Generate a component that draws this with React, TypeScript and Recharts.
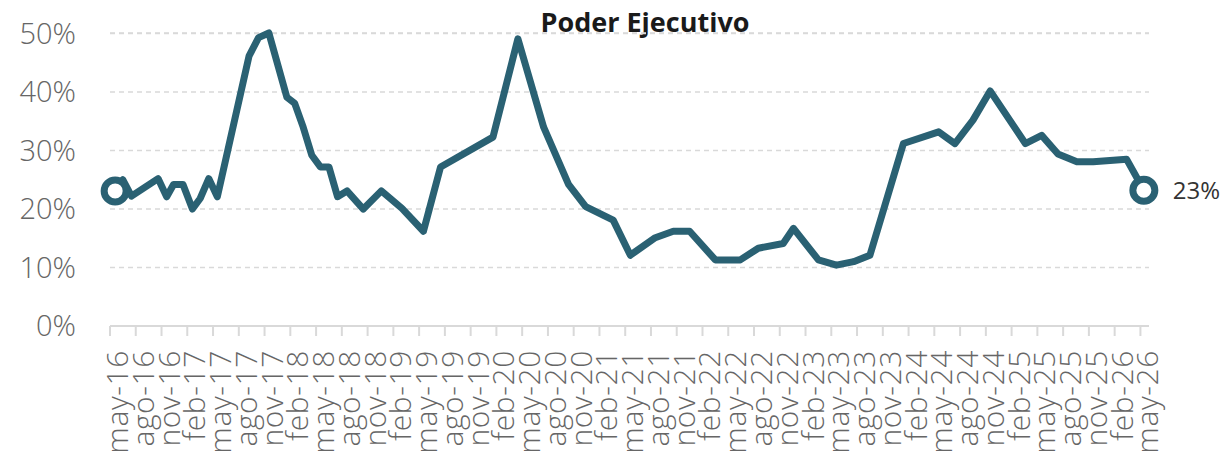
import React from "react";
import { LineChart, Line, XAxis, YAxis, CartesianGrid } from "recharts";

// months since may-16 (fractional = mid-month readings)
const months = [
  0.6, 1.5, 2.5, 5.6, 6.6, 7.4, 8.5, 9.6, 10.5, 11.5, 12.5, 16.2, 17.3, 18.5,
  20.6, 21.5, 22.5, 23.5, 24.5, 25.5, 26.5, 27.6, 29.5, 31.6, 34.0, 36.5, 38.5,
  44.6, 47.5, 50.5, 53.4, 55.4, 58.6, 60.6, 63.5, 65.6, 67.5, 70.5, 73.4, 75.5,
  78.4, 79.6, 82.5, 84.6, 86.6, 88.5, 92.4, 96.5, 98.4, 100.5, 102.5, 106.6,
  108.5, 110.4, 112.6, 114.5, 118.4, 120.4,
];

const values = [
  23.1, 25.0, 22.2, 25.2, 22.1, 24.2, 24.2, 20.0, 21.8, 25.2, 22.1, 46.2, 49.3,
  50.1, 39.1, 38.1, 34.0, 29.2, 27.2, 27.2, 22.1, 23.1, 20.0, 23.1, 20.1, 16.2,
  27.2, 32.3, 49.1, 34.0, 24.2, 20.4, 18.1, 12.1, 15.1, 16.2, 16.2, 11.3, 11.3,
  13.3, 14.1, 16.7, 11.3, 10.4, 11.0, 12.1, 31.2, 33.2, 31.2, 35.2, 40.2, 31.2,
  32.6, 29.4, 28.1, 28.1, 28.5, 23.2,
];

const tickLabels = [
  "may-16", "ago-16", "nov-16", "feb-17", "may-17", "ago-17", "nov-17",
  "feb-18", "may-18", "ago-18", "nov-18", "feb-19", "may-19", "ago-19",
  "nov-19", "feb-20", "may-20", "ago-20", "nov-20", "feb-21", "may-21",
  "ago-21", "nov-21", "feb-22", "may-22", "ago-22", "nov-22", "feb-23",
  "may-23", "ago-23", "nov-23", "feb-24", "may-24", "ago-24", "nov-24",
  "feb-25", "may-25", "ago-25", "nov-25", "feb-26", "may-26",
];

const yTicks = [0, 10, 20, 30, 40, 50];

const data = months.map((m, i) => ({ m, v: values[i] }));
const xTicks = tickLabels.map((_, i) => i * 3);

const LINE = "#2a6173";
const AXIS = "#d9d9d9";

function XTick(props: any) {
  const { x, y, payload } = props;
  const label = tickLabels[Math.round(payload.value / 3)];
  return (
    <text
      transform={`translate(${x + 18},${y + 12}) rotate(-90)`}
      textAnchor="end"
      fontFamily="'Open Sans', sans-serif"
      fontWeight={300}
      fontSize={30}
      letterSpacing={0.6}
      fill="#666"
    >
      {label}
    </text>
  );
}

function EndDot(props: any) {
  const { cx, cy, index } = props;
  const last = index === data.length - 1;
  if (index !== 0 && !last) return <g key={index} />;
  return (
    <g key={index}>
      <circle cx={cx} cy={cy} r={11} fill="#fff" stroke={LINE} strokeWidth={7} />
      {last && (
        <text
          x={cx + 29}
          y={cy}
          dy="0.36em"
          fontFamily="'Open Sans', sans-serif"
          fontSize={24}
          fill="#333"
        >
          {Math.round(values[index])}%
        </text>
      )}
    </g>
  );
}

export default function App() {
  return (
    <div style={{ position: "absolute", left: 0, top: 0, width: 1228, height: 456 }}>
      <div
        style={{
          position: "absolute",
          left: 0,
          width: 1290,
          top: 4,
          textAlign: "center",
          fontFamily: "'Open Sans', sans-serif",
          fontWeight: 700,
          fontSize: 27,
          color: "#1a1a1a",
          lineHeight: "36px",
        }}
      >
        Poder Ejecutivo
      </div>
      <LineChart
        width={1228}
        height={456}
        data={data}
        margin={{ top: 33, right: 79, left: 10, bottom: 0 }}
      >
        <CartesianGrid vertical={false} stroke={AXIS} strokeDasharray="5 4" strokeWidth={1.5} />
        <XAxis
          dataKey="m"
          type="number"
          domain={[0, 121]}
          ticks={xTicks}
          interval={0}
          height={130}
          tickSize={10}
          tickMargin={2}
          stroke={AXIS}
          strokeWidth={2}
          tick={<XTick />}
        />
        <YAxis
          type="number"
          domain={[0, 50]}
          ticks={yTicks}
          width={100}
          axisLine={false}
          tickLine={false}
          tickMargin={28}
          tickFormatter={(v: number) => `${v}%`}
          tick={{ fontFamily: "'Open Sans', sans-serif", fontWeight: 300, fontSize: 29, fill: "#666" }}
        />
        <Line
          type="linear"
          dataKey="v"
          stroke={LINE}
          strokeWidth={7}
          strokeLinejoin="round"
          dot={EndDot}
          activeDot={false}
          isAnimationActive={false}
        />
      </LineChart>
    </div>
  );
}
